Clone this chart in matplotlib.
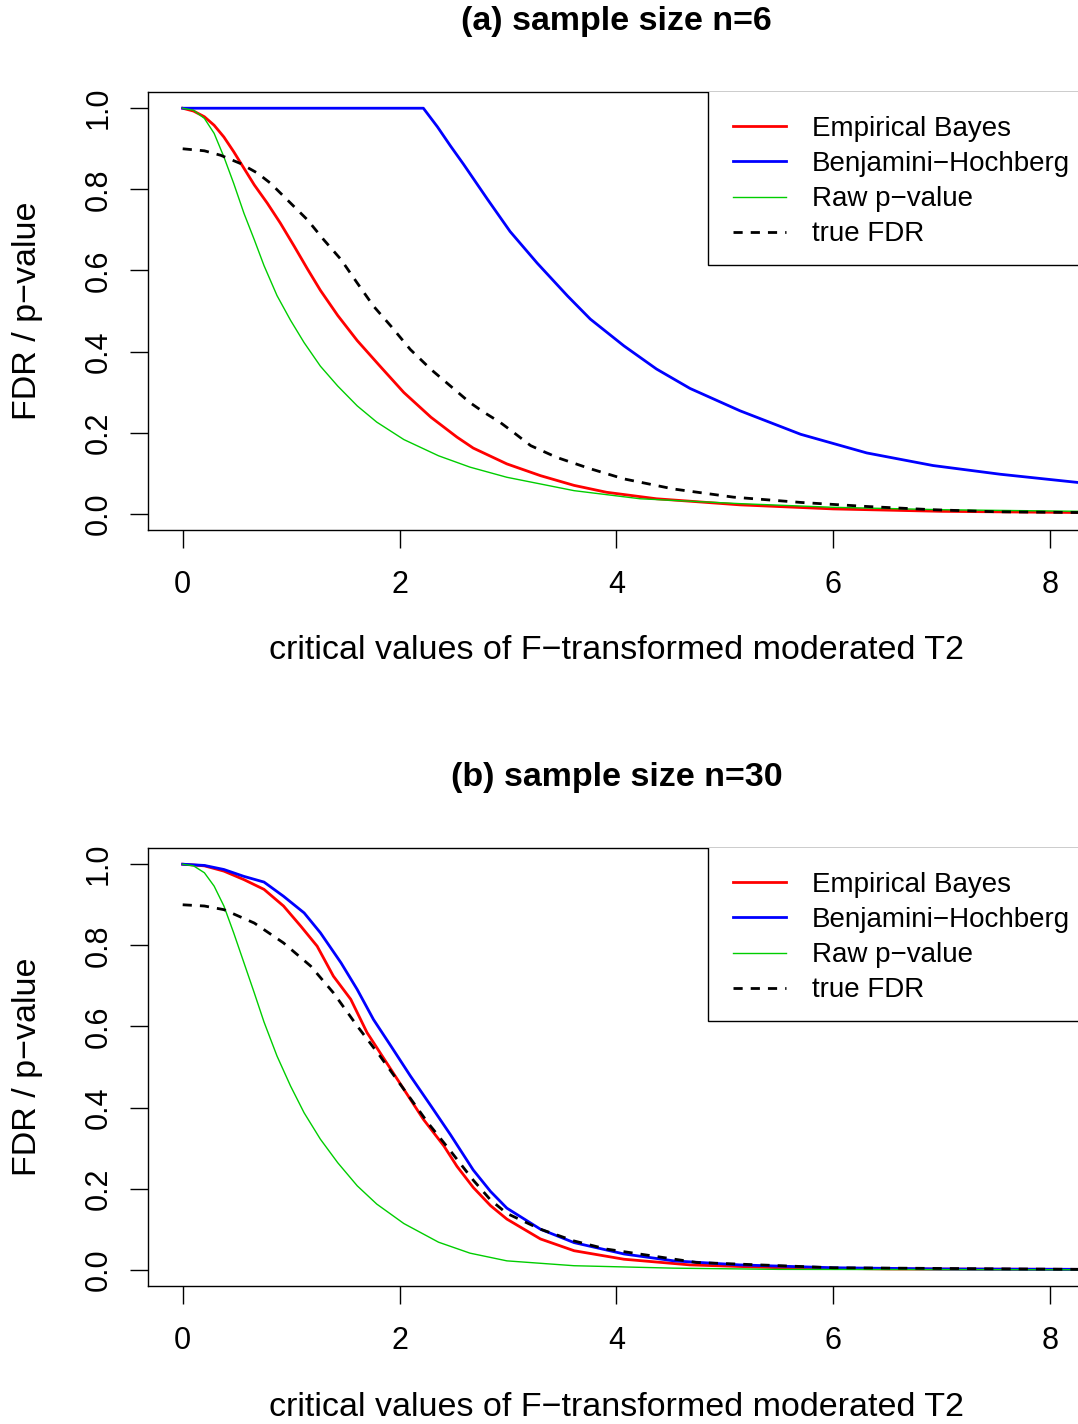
import matplotlib as mpl
mpl.use("Agg")
import matplotlib.pyplot as plt
from matplotlib.patches import Rectangle

plt.rcParams['font.family'] = ['Liberation Sans', 'DejaVu Sans']

# panel (a): n=6
eb_a_x = [0, 0.10, 0.20, 0.29, 0.38, 0.47, 0.565, 0.66, 0.78, 0.90, 1.03, 1.15, 1.27, 1.43, 1.61, 1.82, 2.04, 2.29, 2.53, 2.68, 2.99, 3.30, 3.61, 3.91, 4.37, 5.14, 6.0, 7.0, 8.3]
eb_a_y = [1.0, 0.993, 0.979, 0.958, 0.929, 0.893, 0.852, 0.811, 0.766, 0.717, 0.659, 0.604, 0.551, 0.489, 0.427, 0.364, 0.299, 0.238, 0.189, 0.162, 0.123, 0.094, 0.070, 0.053, 0.037, 0.022, 0.012, 0.006, 0.003]
bh_a_x = [0, 2.22, 2.35, 2.47, 2.59, 2.81, 3.02, 3.27, 3.55, 3.76, 4.07, 4.37, 4.68, 5.14, 5.70, 6.31, 6.92, 7.54, 8.3]
bh_a_y = [1.0, 1.0, 0.954, 0.907, 0.862, 0.776, 0.696, 0.618, 0.537, 0.480, 0.414, 0.357, 0.309, 0.254, 0.196, 0.150, 0.119, 0.0975, 0.076]
raw_a_x = [0, 0.10, 0.20, 0.29, 0.38, 0.47, 0.565, 0.66, 0.75, 0.87, 0.995, 1.12, 1.27, 1.43, 1.61, 1.79, 2.04, 2.36, 2.65, 2.99, 3.61, 4.22, 5.14, 6.0, 7.0, 8.3]
raw_a_y = [1.0, 0.995, 0.975, 0.938, 0.880, 0.815, 0.741, 0.676, 0.612, 0.538, 0.477, 0.422, 0.364, 0.315, 0.266, 0.226, 0.183, 0.143, 0.115, 0.090, 0.057, 0.037, 0.025, 0.016, 0.010, 0.006]
fdr_a_x = [0, 0.20, 0.35, 0.53, 0.69, 0.81, 0.965, 1.15, 1.30, 1.46, 1.61, 1.76, 1.92, 2.10, 2.29, 2.47, 2.65, 2.78, 2.93, 3.05, 3.21, 3.45, 3.76, 4.07, 4.53, 5.08, 5.70, 6.31, 6.92, 7.5, 8.3]
fdr_a_y = [0.9, 0.895, 0.884, 0.864, 0.840, 0.815, 0.774, 0.725, 0.676, 0.627, 0.569, 0.512, 0.463, 0.405, 0.356, 0.315, 0.274, 0.250, 0.225, 0.201, 0.168, 0.139, 0.111, 0.086, 0.061, 0.041, 0.028, 0.018, 0.010, 0.005, 0.003]

# panel (b): n=30
eb_b_x = [0, 0.20, 0.38, 0.565, 0.75, 0.93, 1.09, 1.24, 1.39, 1.55, 1.70, 1.86, 2.04, 2.22, 2.41, 2.53, 2.68, 2.84, 2.99, 3.30, 3.61, 4.07, 4.68, 5.5, 6.5, 8.3]
eb_b_y = [1.0, 0.996, 0.983, 0.962, 0.938, 0.897, 0.847, 0.798, 0.724, 0.667, 0.585, 0.519, 0.445, 0.371, 0.305, 0.255, 0.203, 0.158, 0.125, 0.076, 0.047, 0.026, 0.012, 0.005, 0.002, 0.001]
bh_b_x = [0, 0.20, 0.38, 0.565, 0.75, 0.93, 1.12, 1.27, 1.46, 1.61, 1.76, 1.92, 2.10, 2.29, 2.47, 2.68, 2.84, 2.99, 3.30, 3.61, 4.07, 4.53, 5.14, 6.0, 7.0, 8.3]
bh_b_y = [1.0, 0.997, 0.987, 0.970, 0.956, 0.921, 0.880, 0.831, 0.757, 0.691, 0.617, 0.552, 0.478, 0.404, 0.333, 0.246, 0.193, 0.152, 0.100, 0.067, 0.039, 0.022, 0.012, 0.005, 0.002, 0.001]
raw_b_x = [0, 0.10, 0.20, 0.29, 0.38, 0.47, 0.565, 0.66, 0.75, 0.87, 0.995, 1.12, 1.27, 1.43, 1.61, 1.79, 2.04, 2.36, 2.65, 2.99, 3.61, 4.53, 5.5, 8.3]
raw_b_y = [1.0, 0.996, 0.979, 0.946, 0.897, 0.831, 0.757, 0.683, 0.611, 0.527, 0.453, 0.387, 0.322, 0.264, 0.207, 0.162, 0.114, 0.068, 0.041, 0.022, 0.010, 0.004, 0.001, 0.0]
fdr_b_x = [0, 0.20, 0.38, 0.66, 0.93, 1.18, 1.39, 1.61, 1.82, 2.04, 2.26, 2.47, 2.68, 2.84, 2.99, 3.30, 3.61, 3.91, 4.74, 6.0, 8.3]
fdr_b_y = [0.9, 0.897, 0.888, 0.855, 0.806, 0.749, 0.683, 0.601, 0.527, 0.445, 0.363, 0.293, 0.221, 0.172, 0.139, 0.100, 0.071, 0.051, 0.018, 0.005, 0.001]

titles = ["(a) sample size n=6", "(b) sample size n=30"]
labels = ["Empirical Bayes", "Benjamini\u2212Hochberg", "Raw p\u2212value", "true FDR"]
xticks = [0, 2, 4, 6, 8]
yticks = [0.0, 0.2, 0.4, 0.6, 0.8, 1.0]

W, H = 1078, 1424
FS_TICK = 22
FS_LAB = 24.5
FS_LEG = 20

fig = plt.figure(figsize=(W / 100, H / 100), dpi=100)

panels = [
    (92, (eb_a_x, eb_a_y), (bh_a_x, bh_a_y), (raw_a_x, raw_a_y), (fdr_a_x, fdr_a_y)),
    (848, (eb_b_x, eb_b_y), (bh_b_x, bh_b_y), (raw_b_x, raw_b_y), (fdr_b_x, fdr_b_y)),
]

ax_left, ax_right, ax_h = 148, 1084.7, 438
ax_w = ax_right - ax_left
for i, (top, eb, bh, raw, fdr) in enumerate(panels):
    ax = fig.add_axes([ax_left / W, 1 - (top + ax_h) / H, ax_w / W, ax_h / H])
    ax.plot(eb[0], eb[1], color='#FF0000', lw=2.0)
    ax.plot(bh[0], bh[1], color='#0000FF', lw=2.0)
    ax.plot(raw[0], raw[1], color='#00CD00', lw=1.0)
    ax.plot(fdr[0], fdr[1], color='black', lw=2.0, dashes=(3.3, 2.9))
    ax.set_xlim(-0.32, 8.32)
    ax.set_ylim(-0.04, 1.04)
    ax.set_xticks(xticks)
    ax.set_xticklabels([str(t) for t in xticks])
    ax.set_yticks(yticks)
    ax.set_yticklabels(["%.1f" % t for t in yticks])
    ax.tick_params(direction='out', length=13, width=1.0, labelsize=FS_TICK)
    ax.tick_params(axis='x', pad=15.5)
    ax.tick_params(axis='y', labelrotation=90, pad=12)
    for lab in ax.get_yticklabels():
        lab.set_va('center')
    for sp in ax.spines.values():
        sp.set_linewidth(1.0)
    ax.set_xlabel("critical values of F\u2212transformed moderated T2", fontsize=FS_LAB, va='center')
    ax.xaxis.set_label_coords(0.5, -(651 - 530) / ax_h)
    ax.set_ylabel("FDR / p\u2212value", fontsize=FS_LAB, va='center')
    ax.yaxis.set_label_coords((27 - ax_left) / ax_w, 0.5)
    ax.text(0.5, 1 + 70 / ax_h, titles[i], transform=ax.transAxes, ha='center', va='center',
            fontsize=FS_LAB, fontweight='bold')

    # legend box (runs off the right edge like the original)
    bx0 = (708 - ax_left) / ax_w
    by0 = 1 - (264.7 - 92) / ax_h
    ax.add_patch(Rectangle((bx0, by0), 1 - bx0 + 0.05, 1 - by0 + 0.05, transform=ax.transAxes,
                           fill=True, facecolor='white', edgecolor='black', lw=1.0, zorder=5))
    leg = ax.legend(ax.get_lines(), labels, loc='upper left',
                    bbox_to_anchor=((733 - ax_left) / ax_w, 1 - (116 - 92) / ax_h),
                    frameon=False, borderpad=0, borderaxespad=0, fontsize=FS_LEG,
                    handlelength=1.91, handletextpad=0.94, labelspacing=0.33)
    leg.set_zorder(6)

fig.savefig("out.png", dpi=100)
